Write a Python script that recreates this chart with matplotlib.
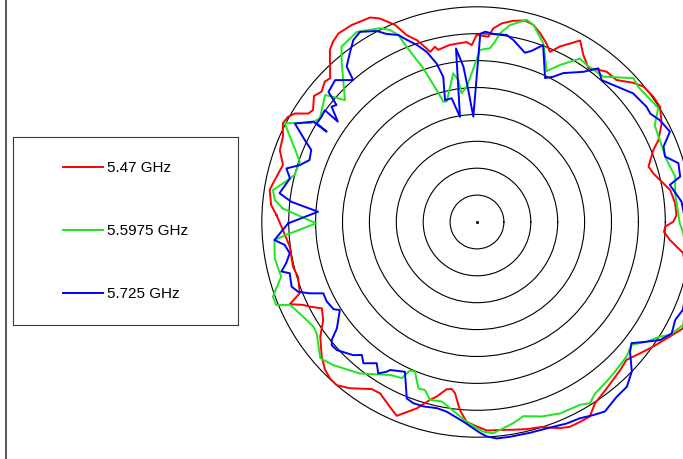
import numpy as np
import matplotlib
matplotlib.use("Agg")
import matplotlib.pyplot as plt
from matplotlib.lines import Line2D

plt.rcParams['font.family'] = ['Liberation Sans', 'DejaVu Sans']

# measured pattern, angle in degrees, gain in dB (read clockwise from the left)
ang_547 = [178.0, 175.3, 171.2, 169.3, 163.6, 160.0, 156.3, 153.0, 150.9, 149.2, 147.3, 145.7, 142.3, 140.0,
           137.3, 135.6, 132.2, 130.5, 128.6, 126.3, 122.5, 117.6, 115.5, 112.6, 110.6, 108.3, 106.2, 105.4,
           103.5, 102.7, 100.3, 98.7, 95.4, 93.3, 91.7, 90.1, 86.5, 85.2, 82.9, 79.8, 76.6, 74.0, 71.5, 68.7,
           66.8, 64.7, 60.4, 57.5, 54.1, 51.4, 49.2, 45.5, 41.7, 39.1, 35.4, 32.2, 28.1, 24.3, 22.2, 17.9,
           15.4, 12.9, 9.4, 5.4, 2.0, 0.1, -1.4, -3.0, -5.3, -7.4, -8.5, -18.0, -27.3, -30.7, -32.0, -35.3,
           -38.9, -42.7, -46.0, -51.4, -56.9, -59.9, -62.7, -65.6, -68.1, -72.9, -76.5, -80.1, -83.7, -87.3,
           -90.1, -93.0, -95.2, -97.3, -98.6, -100.3, -103.0, -104.8, -107.9, -112.5, -115.2, -119.5, -122.2,
           -127.4, -130.7, -133.2, -135.8, -139.1, -143.8, -147.5, -150.9, -153.1, -154.5, -156.3, -158.1,
           -163.0, -166.3, -172.5, -177.6]
gain_547 = [-2.7, -1.6, -1.0, -1.4, -2.4, -1.0, -0.6, 0.5, 0.2, -0.6, -2.7, -3.1, -1.7, -2.3,
            -1.5, -1.8, 0.7, 2.1, 2.9, 3.5, 3.4, 2.9, 1.9, -0.3, -2.9, -4.4, -6.4, -7.2,
            -6.5, -7.2, -6.9, -6.7, -6.6, -6.5, -7.1, -5.2, -5.5, -3.9, -2.8, -2.0, -1.5, -1.9, -3.0, -4.4,
            -5.6, -3.9, -1.2, -3.2, -4.7, -3.8, -3.1, -3.0, -1.1, -0.1, 0.2, 0.2, -1.1, -3.0, -4.6, -6.5,
            -6.0, -5.1, -3.6, -3.0, -2.9, -3.5, -5.0, -5.2, -4.0, -2.3, -1.3, 1.8, 3.1, 1.7, 1.2, 0.1,
            -1.1, -2.2, -1.7, -0.9, 0.2, 1.8, 1.8, 1.8, 1.3, -0.1, -0.4, -0.8, -1.1, -1.2,
            -2.0, -2.8, -4.9, -7.9, -8.6, -8.4, -6.7, -5.8, -3.6, -1.0, -2.0, -3.4, -3.3,
            -1.1, 0.0, -0.1, -0.6, -1.8, -3.9, -6.1, -7.0, -5.2, -4.2, -2.0, -4.5,
            -5.2, -4.8, -4.9, -3.9]

ang_55975 = [176.0, 173.8, 171.1, 167.5, 165.5, 161.2, 156.2, 152.8, 149.2, 146.6, 140.1, 138.7, 137.3, 130.4,
             127.7, 122.3, 116.6, 114.4, 112.8, 111.9, 109.3, 107.0, 105.6, 104.1, 99.1, 97.5, 96.8, 94.4,
             92.0, 89.0, 85.7, 84.3, 83.1, 80.5, 76.2, 74.0, 69.6, 65.2, 62.0, 57.8, 55.1, 49.0, 42.6, 40.0,
             32.2, 28.5, 23.5, 18.1, 12.9, 8.2, -0.4, -2.7, -14.0, -26.6, -30.3, -32.1, -35.2, -38.5, -42.0,
             -48.0, -50.9, -55.4, -58.1, -60.6, -66.5, -71.6, -76.6, -79.8, -85.6, -88.3, -90.1, -93.0, -96.1,
             -101.1, -104.8, -107.2, -109.4, -112.5, -114.3, -115.7, -119.6, -127.7, -135.1, -139.0, -145.2,
             -147.4, -151.4, -156.1, -157.5, -159.9, -164.4, -169.8, -174.9, -176.5, -179.5]
gain_55975 = [-3.8, -2.2, -1.6, -4.0, -5.0, -5.2, -2.3, 0.2, -4.1, -5.0, -3.2, -4.9, -6.6, -1.2,
              1.2, 1.8, 0.3, -0.8, -2.3, -4.9, -9.7, -14.4, -16.8, -16.9, -12.0, -13.4, -15.9, -14.8,
              -12.3, -8.0, -7.6, -6.3, -4.7, -2.9, -1.3, -1.9, -4.6, -9.1, -6.9, -4.1, -4.4, -4.2, -0.5, -0.9,
              -0.2, -2.4, -2.8, -2.9, -2.2, -2.8, -2.3, -1.7, 1.0, 2.8, 1.6, 0.1, -1.4, -3.3, -2.6,
              -2.1, -1.8, -1.3, -0.3, -1.0, -1.2, -1.9, -2.9, -2.0, -0.6, -1.0, -1.7, -2.8, -4.2,
              -6.0, -5.8, -7.3, -7.2, -9.9, -9.7, -7.8, -7.3, -4.4, -2.3, -1.4, -3.7,
              -3.9, -3.2, -2.0, 0.4, 0.4, -2.2, -1.8, -2.2, -5.1, -10.1]

ang_5725 = [180.4, 176.3, 173.8, 171.7, 166.9, 164.3, 162.2, 159.7, 156.5, 154.5, 151.6, 148.5, 149.0, 148.4,
            145.9, 143.7, 144.2, 141.6, 140.2, 138.8, 135.0, 131.1, 130.0, 127.0, 124.2, 121.6, 117.7, 115.7,
            112.8, 111.1, 108.8, 106.5, 104.3, 103.1, 104.7, 101.6, 99.2, 96.9, 95.0, 93.8, 92.0, 89.0, 87.5,
            85.0, 81.0, 78.7, 74.2, 72.3, 69.5, 64.7, 62.3, 59.9, 54.7, 51.7, 48.7, 39.5, 34.2, 32.0, 29.1,
            25.1, 22.0, 19.2, 16.3, 12.6, 10.9, 5.7, -9.0, -23.1, -26.3, -29.8, -32.8, -35.2, -38.1, -40.3,
            -44.0, -47.7, -51.4, -56.0, -58.9, -62.3, -66.0, -71.3, -75.9, -81.3, -84.8, -87.4, -89.2, -93.9,
            -99.1, -102.2, -106.2, -109.4, -111.7, -115.7, -120.4, -121.1, -123.1, -125.4, -128.8, -130.9,
            -132.9, -137.6, -139.7, -140.9, -142.8, -147.3, -148.7, -152.1, -155.1, -156.9, -158.7, -160.8,
            -164.7, -165.8, -167.8, -170.5, -173.2, -174.9]
gain_5725 = [-4.9, -10.4, -5.3, -2.9, -4.3, -3.2, -5.4, -6.8, -6.4, -4.5, -1.5, -4.3, -7.4, -5.0,
             -5.1, -4.9, -8.1, -5.5, -6.0, -3.3, -2.7, -5.0, -2.3, -0.7, 0.9, 1.5, 0.1, -1.2,
             -2.3, -3.7, -5.2, -7.0, -9.6, -12.3, -16.6, -16.5, -20.2, -7.5, -11.0, -15.4, -20.4, -5.0, -4.6,
             -4.9, -4.8, -5.5, -7.3, -6.6, -4.9, -10.4, -9.5, -8.0, -5.8, -3.6, -4.9, -2.4, -1.9, -2.0, -1.1,
             -0.4, -2.6, -3.0, -1.0, -1.3, -3.5, -1.8, 0.5, 1.6, 1.1, 1.7, 0.5, -1.4, -3.5, -2.7,
             0.0, 1.4, 1.6, 2.5, 1.9, 1.2, 1.0, 0.5, 0.4, 0.4, 0.4, -0.1, -0.8, -2.8,
             -4.3, -4.6, -4.3, -4.3, -4.7, -9.1, -8.1, -7.5, -6.4, -7.8, -6.3, -7.3,
             -6.2, -4.7, -4.6, -5.2, -7.3, -9.7, -8.8, -8.4, -8.5, -6.2, -4.3, -3.5,
             -3.9, -2.5, -3.7, -4.7, -4.0, -2.2]

series = [
    (ang_547, gain_547, '#ff0000', '5.47 GHz'),
    (ang_55975, gain_55975, '#1ee61e', '5.5975 GHz'),
    (ang_5725, gain_5725, '#0000ff', '5.725 GHz'),
]

R_MIN = -40          # centre of the plot
R_MAX = 4.5
rings = [-35, -30, -25, -20, -15, -10, -5, 0]


def closed(ang, gain):
    t = np.deg2rad(np.append(ang, ang[0]))
    return np.unwrap(t), np.append(gain, gain[0])


fig = plt.figure(figsize=(6.83, 4.59), dpi=100)
ax = fig.add_axes([0.3479, -0.0052, 0.7010, 1.0431], projection='polar')
ax.set_facecolor('none')

lines = []
for ang, gain, col, lab in series:
    t, g = closed(ang, gain)
    ln, = ax.plot(t, g, color=col, lw=1.4, label=lab)
    lines.append(ln)

ax.set_rlim(R_MIN, R_MAX)
ax.set_rgrids(rings)
ax.set_yticklabels([])
ax.set_xticks([])
ax.tick_params(axis='both', length=0)
ax.yaxis.grid(True, color='black', lw=0.8, ls='-')
ax.spines['polar'].set_visible(False)
ax.plot([0], [R_MIN], marker='o', ms=1.2, color='black')

# legend in its own framed box
lax = fig.add_axes([13 / 683, 1 - 325 / 459, 225 / 683, 188 / 459])
lax.set_xticks([])
lax.set_yticks([])
for s in lax.spines.values():
    s.set_color('#3a3a3a')
    s.set_linewidth(0.8)
lax.legend(handles=lines, loc='center', frameon=False, fontsize=11,
           handlelength=2.6, handletextpad=0.25, labelspacing=3.2)

fig.add_artist(Line2D([6 / 683, 6 / 683], [0, 1], color='#3a3a3a', lw=1.2))

fig.savefig('out.png', dpi=100)
